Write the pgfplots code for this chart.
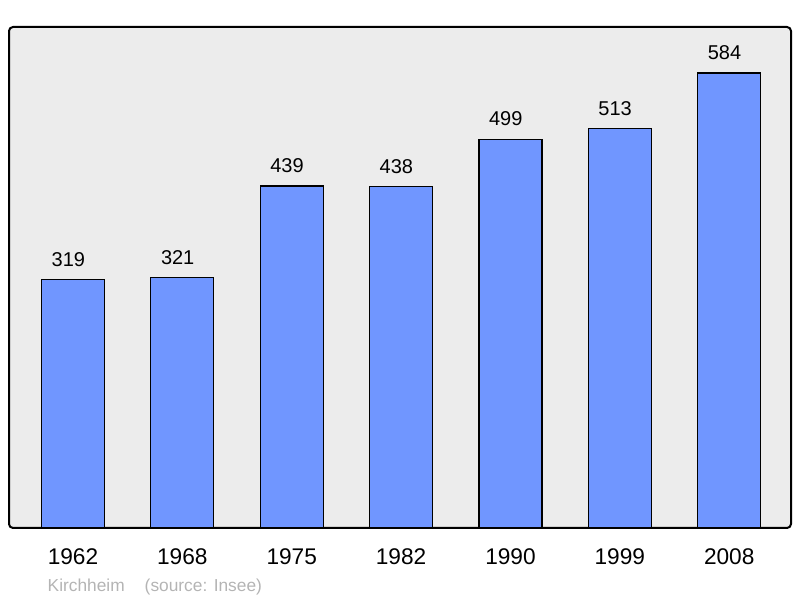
\documentclass[border=0pt]{standalone}
\usepackage{pgfplots}
\pgfplotsset{compat=1.18}
\usepackage{fontspec}
\setmainfont{Liberation Sans}
\definecolor{barBlue}{RGB}{112,150,255}
\definecolor{bgGray}{RGB}{236,236,236}
\definecolor{footGray}{RGB}{180,180,180}

\begin{document}
\begin{tikzpicture}[x=0.75pt,y=0.75pt]
% picture frame: 800 x 598 px
\useasboundingbox (-9,-70) rectangle (791,27+501);
\begin{axis}[
    at={(0,0)}, anchor=south west,
    scale only axis,
    width=586.5pt, height=375.75pt,
    xmin=-0.585, xmax=6.565,
    ymin=0, ymax=643,
    axis background/.style={fill=bgGray, draw=black, line width=1.5pt, rounded corners=3pt},
    axis line style={draw=none},
    xtick=data,
    xticklabels={1962,1968,1975,1982,1990,1999,2008},
    xticklabel style={font=\fontsize{17}{20}\selectfont, yshift=-12pt},
    ytick=\empty,
    major tick length=0pt,
    /pgf/number format/assume math mode=true,
    ybar, bar width=47.25pt,
    nodes near coords,
    every node near coord/.append style={font=\fontsize{15}{18}\selectfont, yshift=6pt, xshift=-3.5pt},
    clip=false,
]
\addplot[fill=barBlue, draw=black, line width=0.9pt] coordinates {
    (0,319) (1,321) (2,439) (3,438) (4,499) (5,513) (6,584)};
\node[anchor=west, text=footGray, font=\fontsize{13}{15}\selectfont]
    at ([xshift=25.5pt,yshift=-44pt]rel axis cs:0,0) {Kirchheim\hspace{15pt}(source: Insee)};
\end{axis}
\end{tikzpicture}
\end{document}
